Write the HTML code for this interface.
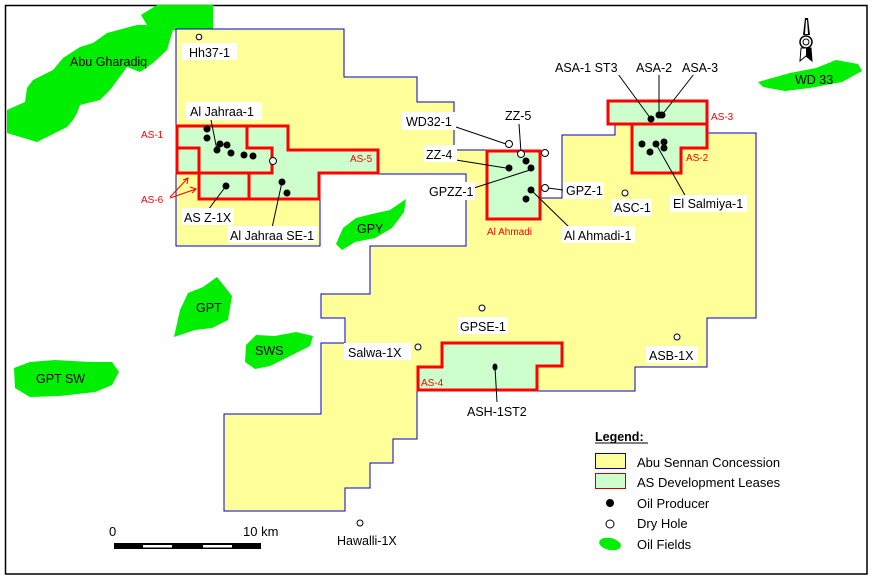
<!DOCTYPE html>
<html><head><meta charset="utf-8"><style>
html,body{margin:0;padding:0;background:#fff;}
svg{display:block;font-family:"Liberation Sans",Arial,sans-serif;}
</style></head><body>
<svg width="874" height="581" viewBox="0 0 874 581" xmlns="http://www.w3.org/2000/svg">
<rect x="0" y="0" width="874" height="581" fill="#fff"/>
<rect x="5.5" y="5.5" width="861.5" height="568.5" fill="none" stroke="#000" stroke-width="1.5"/>

<!-- oil fields -->
<g fill="#00ee00">
<polygon points="141,15 157,5 213,5 213,30 173,30 167,50 153,63 140,72 127,67 110,90 100,100 80,105 77,113 73,120 67,127 37,142 7,133 7,110 25,102 27,88 33,80 53,70 63,58 80,47 93,43 107,33 137,25 147,25"/>
<polygon points="336,244 343,228 356,218 372,214 390,210 406,199 404,212 392,228 375,238 355,242 342,250"/>
<polygon points="174,337 180,310 188,293 203,287 217,277 232,296 228,320 212,328 195,330"/>
<polygon points="246,345 256,335 275,336 296,332 313,336 310,346 290,356 270,366 255,369 245,362"/>
<polygon points="14,368 30,362 55,360 90,362 112,362 119,372 112,385 95,392 60,396 30,397 15,388"/>
<polygon points="758,82 790,73 816,68 836,60 858,64 862,71 842,82 810,88 785,91 763,87"/>
</g>

<!-- concession -->
<polygon fill="#ffff99" stroke="#0000cc" stroke-width="1" points="176,29 344,29 344,77 417,77 417,102 454,102 454,150 486,150 540,150 540,198 562,198 562,135 615,135 615,125 707,125 707,133 756,133 756,318 707,318 707,367 635,367 635,391 417,391 417,439 393,439 393,463 370,463 370,488 345,488 345,511 224,511 224,414 321,414 321,343 345,343 345,318 321,318 321,294 370,294 370,246 466,246 466,174 320,174 320,246 176,246"/>

<!-- leases -->
<g fill="#ccffcc" stroke="#ff0000" stroke-width="3">
<polygon points="177,126 288,126 288,150 378,150 378,173 319,173 319,199 199,199 199,173 177,173"/>
<polygon points="608,101 707,101 707,124 608,124"/>
<polygon points="632,124 707,124 707,148 681,148 681,173 632,173"/>
<polygon points="487,151 540,151 540,219 487,219"/>
<polygon points="418,367 442,367 442,343 562,343 562,366 537,366 537,390 418,390"/>
</g>
<g fill="none" stroke="#ff0000" stroke-width="3">
<polyline points="247,126 247,148 272,148 272,173 177,173"/>
<polyline points="177,148 199,148 199,173"/>
<line x1="249" y1="173" x2="249" y2="199"/>
</g>
<g stroke="#ff0000" stroke-width="1" fill="none">
<polyline points="170,197 188,178"/><polyline points="183,180 188,178 187,184"/>
<polyline points="170,198 196,189"/><polyline points="190,187 196,189 192,193"/>
</g>

<!-- leader lines -->
<g stroke="#000" stroke-width="1">
<line x1="211" y1="120" x2="217" y2="150"/>
<line x1="456" y1="127" x2="506" y2="144"/>
<line x1="519" y1="124" x2="521" y2="152"/>
<line x1="456" y1="160" x2="506" y2="168"/>
<line x1="474" y1="188" x2="530" y2="170"/>
<line x1="548" y1="188" x2="563" y2="190"/>
<line x1="531" y1="190" x2="570" y2="228"/>
<line x1="656" y1="144" x2="686" y2="197"/>
<line x1="618" y1="74" x2="651" y2="119"/>
<line x1="659" y1="74" x2="659" y2="115"/>
<line x1="694" y1="74" x2="662" y2="115"/>
<line x1="226" y1="186" x2="208" y2="210"/>
<line x1="282" y1="182" x2="272" y2="228"/>
<line x1="495" y1="367" x2="497" y2="402"/>
</g>

<!-- wells -->
<g fill="#000">
<circle cx="207" cy="129" r="3.5"/><circle cx="207" cy="138" r="3.5"/><circle cx="220" cy="144" r="3.5"/>
<circle cx="217" cy="150" r="3.5"/><circle cx="227" cy="145" r="3.5"/><circle cx="231" cy="153" r="3.5"/>
<circle cx="244" cy="155" r="3.5"/><circle cx="253" cy="156" r="3.5"/><circle cx="226" cy="186" r="3.5"/>
<circle cx="282" cy="182" r="3.5"/><circle cx="287" cy="193" r="3.5"/>
<circle cx="509" cy="168" r="3.5"/><circle cx="526" cy="161" r="3.5"/><circle cx="531" cy="168" r="3.5"/>
<circle cx="531" cy="190" r="3.5"/><circle cx="526" cy="199" r="3.5"/>
<circle cx="651" cy="119" r="3.5"/><circle cx="659" cy="115" r="3.5"/><circle cx="662" cy="115" r="3.5"/>
<circle cx="642" cy="144" r="3.5"/><circle cx="650" cy="152" r="3.5"/><circle cx="656" cy="144" r="3.5"/>
<circle cx="664" cy="142" r="3.5"/><circle cx="664" cy="148" r="3.5"/>
<ellipse cx="495" cy="367" rx="2.5" ry="3.5"/>
</g>
<g fill="#fff" stroke="#000" stroke-width="1">
<circle cx="199" cy="37" r="2.8"/><circle cx="273" cy="161" r="3.5"/>
<circle cx="509" cy="144" r="3.5"/><circle cx="521" cy="154" r="3.5"/><circle cx="545" cy="153" r="3.5"/><circle cx="545" cy="188" r="3.5"/>
<circle cx="625" cy="193" r="3"/><circle cx="482" cy="308" r="3"/><circle cx="418" cy="347" r="3"/>
<circle cx="677" cy="337" r="3"/><circle cx="360" cy="523" r="3"/>
</g>

<!-- label backgrounds -->
<g fill="#fff">
<rect x="182" y="43" width="55" height="17"/>
<rect x="186" y="102" width="76" height="18"/>
<rect x="402" y="112" width="54" height="18"/>
<rect x="502" y="106" width="34" height="17"/>
<rect x="424" y="145" width="33" height="17"/>
<rect x="426" y="182" width="49" height="18"/>
<rect x="563" y="182" width="41" height="17"/>
<rect x="612" y="199" width="40" height="17"/>
<rect x="562" y="226" width="73" height="17"/>
<rect x="670" y="195" width="77" height="17"/>
<rect x="553" y="58" width="68" height="17"/>
<rect x="633" y="58" width="42" height="17"/>
<rect x="679" y="58" width="44" height="17"/>
<rect x="182" y="208" width="52" height="17"/>
<rect x="228" y="226" width="89" height="17"/>
<rect x="457" y="317" width="51" height="17"/>
<rect x="344" y="343" width="67" height="17"/>
<rect x="646" y="346" width="52" height="17"/>
</g>

<g font-size="12.5" fill="#000">
<text x="70" y="66">Abu Gharadiq</text>
<text x="189" y="57">Hh37-1</text>
<text x="190" y="116">Al Jahraa-1</text>
<text x="406" y="126">WD32-1</text>
<text x="505" y="120">ZZ-5</text>
<text x="426" y="159">ZZ-4</text>
<text x="429" y="196">GPZZ-1</text>
<text x="566" y="195">GPZ-1</text>
<text x="614" y="212">ASC-1</text>
<text x="564" y="240">Al Ahmadi-1</text>
<text x="673" y="208">El Salmiya-1</text>
<text x="555" y="72">ASA-1 ST3</text>
<text x="636" y="72">ASA-2</text>
<text x="682" y="72">ASA-3</text>
<text x="795" y="84">WD 33</text>
<text x="184" y="222">AS Z-1X</text>
<text x="230" y="240">Al Jahraa SE-1</text>
<text x="357" y="233">GPY</text>
<text x="196" y="312">GPT</text>
<text x="255" y="355">SWS</text>
<text x="36" y="383">GPT SW</text>
<text x="460" y="331">GPSE-1</text>
<text x="348" y="357">Salwa-1X</text>
<text x="649" y="360">ASB-1X</text>
<text x="467" y="416">ASH-1ST2</text>
<text x="337" y="545">Hawalli-1X</text>
</g>
<g font-size="10" fill="#ff0000">
<text x="141" y="138">AS-1</text>
<text x="141" y="203">AS-6</text>
<text x="350" y="162">AS-5</text>
<text x="711" y="120">AS-3</text>
<text x="686" y="161">AS-2</text>
<text x="421" y="386">AS-4</text>
<text x="487" y="235">Al Ahmadi</text>
</g>

<!-- compass -->
<g>
<polygon points="805,18 808,18 810,35 803,35" fill="#000"/>
<polygon points="806,20 807,20 808,34 805,34" fill="#fff"/>
<circle cx="806" cy="42" r="6" fill="#fff" stroke="#000" stroke-width="1.5"/>
<circle cx="806" cy="42" r="3" fill="none" stroke="#000" stroke-width="1"/>
<polygon points="801,48 811,48 812,61 806,56 800,61" fill="#fff" stroke="#000" stroke-width="1"/>
<polygon points="806,48 811,48 812,61 806,56" fill="#000"/>
</g>

<!-- scale bar -->
<rect x="114" y="543" width="147" height="6" fill="#000"/>
<rect x="143" y="545" width="29" height="2.5" fill="#fff"/>
<rect x="203" y="545" width="29" height="2.5" fill="#fff"/>
<text x="109" y="536" font-size="13">0</text>
<text x="243" y="536" font-size="13">10 km</text>

<!-- legend -->
<text x="595" y="441" font-size="12.5" font-weight="bold">Legend:</text>
<line x1="595" y1="443" x2="648" y2="443" stroke="#000" stroke-width="1"/>
<rect x="595.5" y="453.5" width="30" height="15" fill="#ffff99" stroke="#0000cc" stroke-width="1"/>
<rect x="595.5" y="473.5" width="30" height="15" fill="#ccffcc" stroke="#cc0000" stroke-width="1"/>
<circle cx="610" cy="503" r="4" fill="#000"/>
<circle cx="610" cy="524" r="4" fill="#fff" stroke="#000" stroke-width="1"/>
<ellipse cx="610" cy="544" rx="11" ry="6" fill="#00ee00" transform="rotate(12 610 544)"/>
<g font-size="13">
<text x="637" y="467">Abu Sennan Concession</text>
<text x="637" y="487">AS Development Leases</text>
<text x="637" y="508">Oil Producer</text>
<text x="637" y="528">Dry Hole</text>
<text x="637" y="549">Oil Fields</text>
</g>
</svg>
</body></html>
